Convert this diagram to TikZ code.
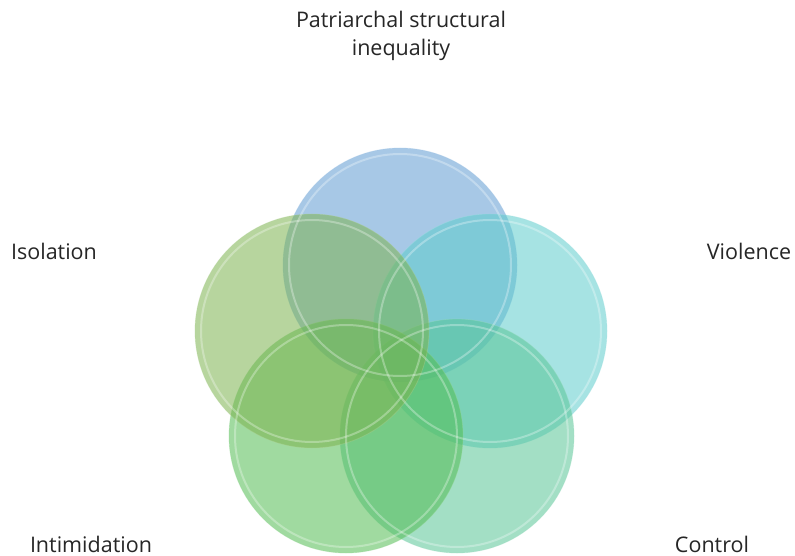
\documentclass[tikz,border=0pt]{standalone}
\usepackage{fontspec}
\setmainfont{Open Sans}
\definecolor{cblue}{RGB}{95,155,210}
\definecolor{ccyan}{RGB}{93,204,204}
\definecolor{ciso}{RGB}{124,179,79}
\definecolor{cintim}{RGB}{82,188,82}
\definecolor{cctrl}{RGB}{88,197,150}
\tikzset{
  bubble/.style={circle, minimum size=234pt, inner sep=0pt, fill opacity=0.55, draw opacity=0.35, line width=0.8pt},
  ring/.style={draw=white, draw opacity=0.3, line width=2pt},
  lbl/.style={font=\fontsize{21.5}{28}\selectfont, text=black!85, inner sep=0pt}
}
\begin{document}
\begin{tikzpicture}[x=1pt,y=-1pt]
\useasboundingbox (0,0) rectangle (795,556);
\node[bubble, fill=cblue, draw=cblue!60] (b1) at (400,265) {};
\node[bubble, fill=ccyan, draw=ccyan!60] (b2) at (490,331) {};
\node[bubble, fill=cctrl, draw=cctrl!60] (b3) at (457,436) {};
\node[bubble, fill=cintim, draw=cintim!60] (b4) at (346,436) {};
\node[bubble, fill=ciso, draw=ciso!60] (b5) at (312,331) {};
\foreach \n in {b1,b2,b3,b4,b5}{
  \draw[ring] (\n.center) circle (111);
}
\node[lbl, align=center] (t1) at (401,36) {Patriarchal structural\\inequality};
\node[lbl] (t2) at (749,251) {Violence};
\node[lbl, anchor=base] (t3) at (712,552) {Control};
\node[lbl, anchor=base] (t4) at (91,552) {Intimidation};
\node[lbl] (t5) at (54,251) {Isolation};
\end{tikzpicture}
\end{document}
